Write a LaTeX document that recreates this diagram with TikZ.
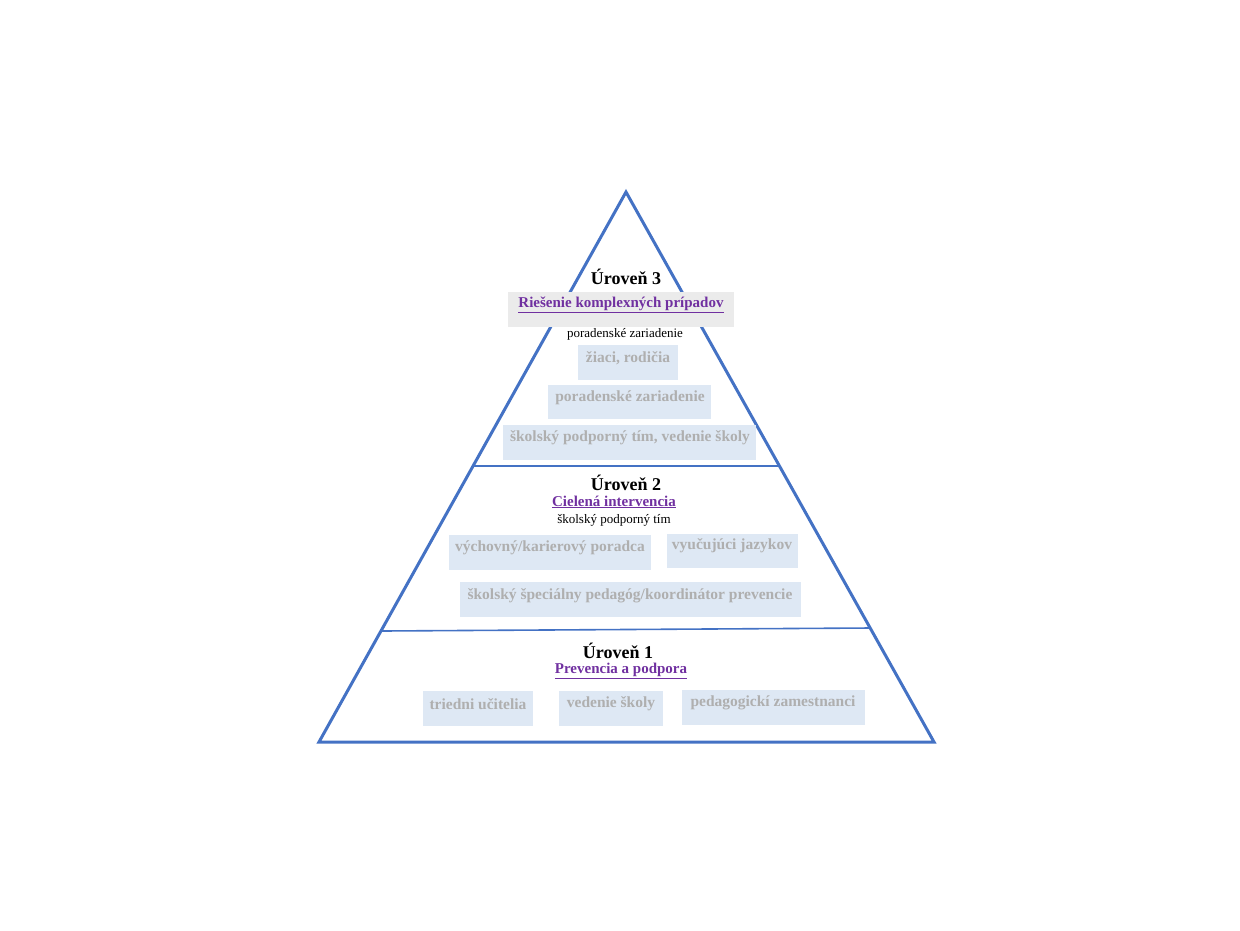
\documentclass[tikz,border=0pt]{standalone}
\usepackage{fontspec}
\setmainfont{Liberation Serif}
\definecolor{pyrblue}{HTML}{4472C4}
\definecolor{boxblue}{HTML}{DEE8F4}
\definecolor{boxgray}{HTML}{EBEBEB}
\definecolor{txtgray}{HTML}{AFAFAF}
\definecolor{goalpurple}{HTML}{7030A0}
\tikzset{
    level/.style = {font = \fontsize{18}{20}\selectfont\bfseries, inner sep = 0pt},
    goal/.style = {font = \fontsize{15}{17}\selectfont\bfseries, text = goalpurple, inner sep = 0pt},
    team/.style = {font = \fontsize{13}{15}\selectfont, inner sep = 0.5pt},
    member/.style = {font = \fontsize{15.5}{17}\selectfont\bfseries, text = txtgray},
}
\begin{document}
\begin{tikzpicture}[x = 1pt, y = -1pt]
        \useasboundingbox (0, 0) rectangle (1240, 930);

        % Pyramide
        \coordinate (top) at (626, 192);
        \coordinate (bl) at (319, 742);
        \coordinate (br) at (934, 742);
        \draw [pyrblue, line width = 3pt, line join = miter] (top) -- (br) -- (bl) -- cycle;
        \draw [pyrblue, line width = 1.6pt] (473, 466) -- (779, 466);
        \draw [pyrblue, line width = 1.6pt] (382, 631) -- (871, 628);

        % Stufe 3
        \node [level] (u3) at (626, 277) {Úroveň 3};
        \fill [boxgray] (508, 292) rectangle (734, 327);
        \node [goal] (g3) at (621, 305) {\underline{Riešenie komplexných prípadov}};
        \node [team] (t3) at (625, 334) {poradenské zariadenie};
        \fill [boxblue] (578, 345) rectangle (678, 380);
        \node [member] (m31) at (628, 358) {žiaci, rodičia};
        \fill [boxblue] (548, 385) rectangle (711, 419);
        \node [member] (m32) at (630, 398) {poradenské zariadenie};
        \fill [boxblue] (503, 425) rectangle (756, 460);
        \node [member] (m33) at (630, 438) {školský podporný tím, vedenie školy};

        % Stufe 2
        \node [level] (u2) at (626, 483) {Úroveň 2};
        \node [goal] (g2) at (614, 502) {\underline{Cielená intervencia}};
        \node [team] (t2) at (614, 520) {školský podporný tím};
        \fill [boxblue] (449, 535) rectangle (651, 570);
        \node [member] (m21) at (550, 548) {výchovný/karierový poradca};
        \fill [boxblue] (667, 534) rectangle (798, 568);
        \node [member] (m22) at (732, 546) {vyučujúci jazykov};
        \fill [boxblue] (460, 582) rectangle (801, 617);
        \node [member] (m23) at (630, 596) {školský špeciálny pedagóg/koordinátor prevencie};

        % Stufe 1
        \node [level] (u1) at (618, 651) {Úroveň 1};
        \node [goal] (g1) at (621, 671) {\underline{Prevencia a podpora}};
        \fill [boxblue] (423, 691) rectangle (533, 726);
        \node [member] (m11) at (478, 704) {triedni učitelia};
        \fill [boxblue] (559, 691) rectangle (663, 726);
        \node [member] (m12) at (611, 704) {vedenie školy};
        \fill [boxblue] (682, 690) rectangle (865, 725);
        \node [member] (m13) at (773, 703) {pedagogickí zamestnanci};
    \end{tikzpicture}
\end{document}
